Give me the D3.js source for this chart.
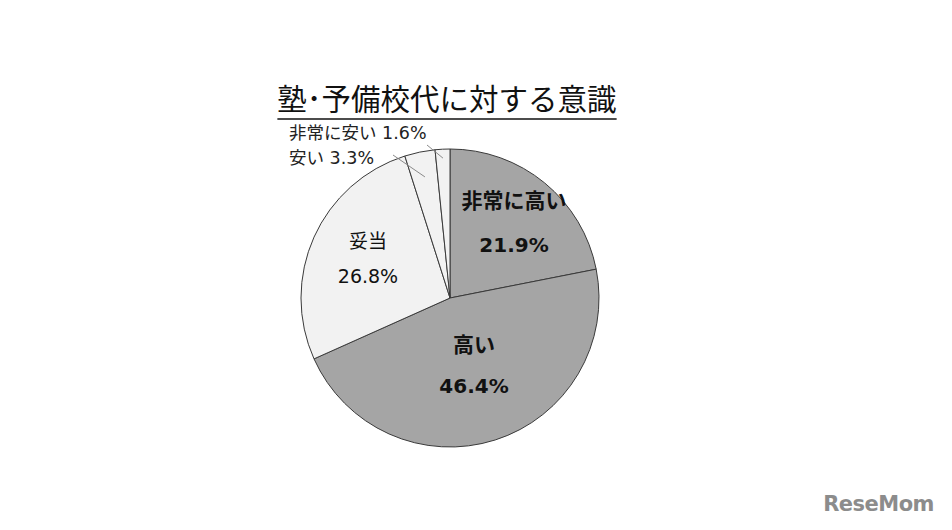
<!DOCTYPE html>
<html><head><meta charset="utf-8">
<script src="https://cdn.jsdelivr.net/npm/d3@7"></script>
<style>body{margin:0;background:#fff;} svg{display:block;}</style>
</head><body>
<svg id="c" width="952" height="530"></svg>
<script>
const categories = ["非常に高い","高い","妥当","安い","非常に安い"];
const values = [21.9, 46.4, 26.8, 3.3, 1.6];
const colors = ["#a5a5a5","#a5a5a5","#f2f2f2","#f2f2f2","#f2f2f2"];
const title = "塾･予備校代に対する意識";

const svg = d3.select("#c");
const font = "'Noto Sans CJK JP','Noto Sans',sans-serif";
const numFont = "'DejaVu Sans','Noto Sans CJK JP',sans-serif";
const cx = 450, cy = 298, R = 149;
const g = svg.append("g").attr("transform", `translate(${cx},${cy})`);
const pie = d3.pie().sort(null).value(d => d)(values);
const arc = d3.arc().innerRadius(0).outerRadius(R);
g.selectAll("path").data(pie).enter().append("path")
  .attr("d", arc).attr("fill", (d,i) => colors[i])
  .attr("stroke", "#3a3a3a").attr("stroke-width", 1);

// inside labels
const inside = [
  {i:0, dx:514, y1:208, y2:252, bold:true, fs:21, ns:20},
  {i:1, dx:474, y1:352, y2:393, bold:true, fs:21, ns:20},
  {i:2, dx:368, y1:248, y2:283, bold:false, fs:19, ns:19}
];
inside.forEach(o => {
  svg.append("text").attr("x", o.dx).attr("y", o.y1).attr("text-anchor","middle")
    .attr("font-family", font).attr("font-size", o.fs).attr("font-weight", o.bold?"bold":"normal")
    .attr("fill","#111").text(categories[o.i]);
  svg.append("text").attr("x", o.dx).attr("y", o.y2).attr("text-anchor","middle")
    .attr("font-family", numFont).attr("font-size", o.ns).attr("font-weight", o.bold?"bold":"normal")
    .attr("fill","#111").text(values[o.i].toFixed(1) + "%");
});

// outside labels with leader lines
const outside = [
  {i:4, tx:289, ty:139, r0:0.94, ex:427, ey:145},
  {i:3, tx:289, ty:164, r0:0.83, ex:393, ey:155}
];
outside.forEach(o => {
  const d = pie[o.i];
  const a = (d.startAngle + d.endAngle) / 2;
  const sx = cx + Math.sin(a) * R * o.r0, sy = cy - Math.cos(a) * R * o.r0;
  svg.append("line").attr("x1", sx).attr("y1", sy).attr("x2", o.ex).attr("y2", o.ey)
    .attr("stroke","#8a8a8a").attr("stroke-width",1);
  const t = svg.append("text").attr("x", o.tx).attr("y", o.ty)
    .attr("font-size", 17.5).attr("fill","#222");
  t.append("tspan").attr("font-family", font).text(categories[o.i]);
  t.append("tspan").attr("font-family", numFont).text(" " + values[o.i].toFixed(1) + "%");
});

// title
const t = svg.append("text").attr("x", 447).attr("y", 110).attr("text-anchor","middle")
  .attr("font-family", font).attr("font-size", 29.5).attr("fill","#111").text(title);
const bb = t.node().getBBox();
svg.append("line").attr("x1", bb.x).attr("x2", bb.x + bb.width).attr("y1", 119).attr("y2", 119)
  .attr("stroke","#111").attr("stroke-width", 1.5);

// watermark
svg.append("text").attr("x", 934).attr("y", 511).attr("text-anchor","end")
  .attr("font-family","'DejaVu Sans',sans-serif").attr("font-weight","bold").attr("font-size",21)
  .attr("fill","#8c8c8c").attr("letter-spacing","-0.5").text("ReseMom");
</script>
</body></html>
